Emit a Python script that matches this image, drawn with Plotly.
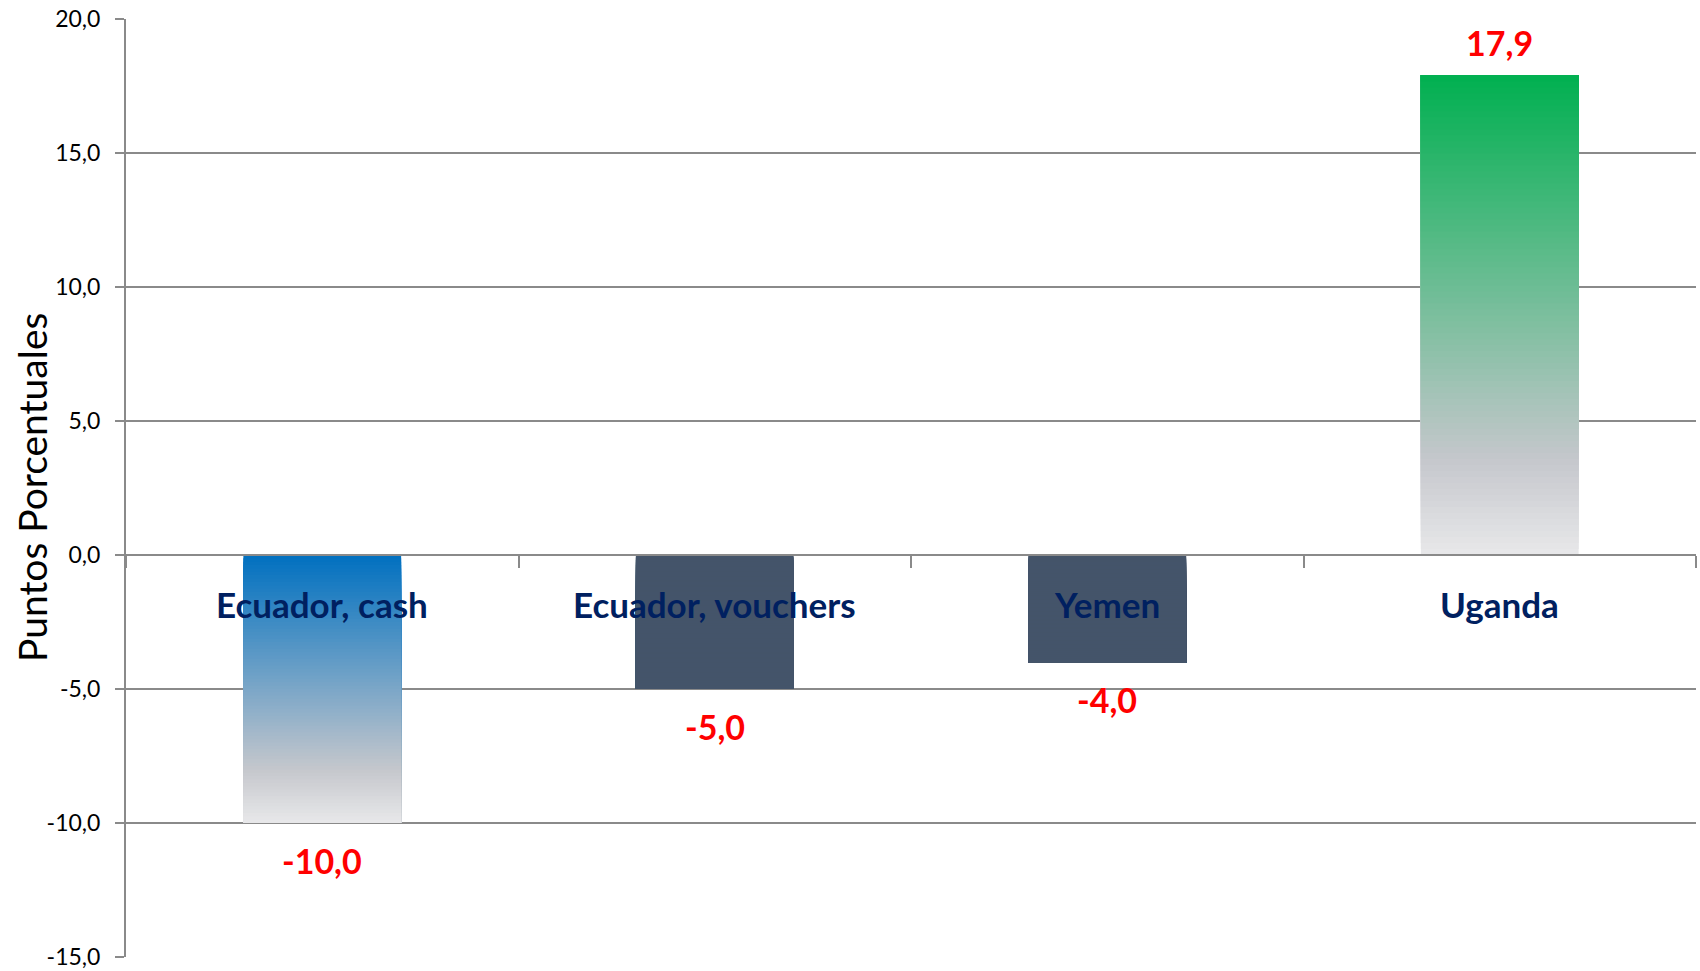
import plotly.graph_objects as go

categories = ["Ecuador, cash", "Ecuador, vouchers", "Yemen", "Uganda"]
values = [-10.0, -5.0, -4.0, 17.9]
top_colors = ["#0070C0", "#44546A", "#44546A", "#00B050"]
gradient = [True, False, False, True]
y_ticks = [-15, -10, -5, 0, 5, 10, 15, 20]
y_title = "Puntos Porcentuales"

Y_MIN, Y_MAX = -15, 20
N = 80
MID_GREY = (197, 199, 204)
LIGHT_GREY = (232, 232, 234)


def fmt(v):
    return f"{v:.1f}".replace(".", ",")


def hex_rgb(h):
    h = h.lstrip("#")
    return tuple(int(h[i:i + 2], 16) for i in (0, 2, 4))


def mix(a, b, t):
    return "rgb(%d,%d,%d)" % tuple(round(a[k] + (b[k] - a[k]) * t) for k in range(3))


def grad_color(top, t):
    # t: 0 at top of bar (screen), 1 at bottom
    if t <= 0.8:
        return mix(top, MID_GREY, t / 0.8)
    return mix(MID_GREY, LIGHT_GREY, (t - 0.8) / 0.2)


fig = go.Figure()
for i in range(N):
    bases, heights, colors = [], [], []
    for v, c, g in zip(values, top_colors, gradient):
        step = v / N
        base = step * i
        bases.append(base)
        heights.append(v - base)  # extends to the bar end; later layers cover
        if g:
            bar_top = max(0, v)
            bar_bot = min(0, v)
            mid = base + step / 2
            t = (bar_top - mid) / (bar_top - bar_bot)
            colors.append(grad_color(hex_rgb(c), t))
        else:
            colors.append(c)
    fig.add_trace(go.Bar(
        x=categories, y=heights, base=bases,
        marker=dict(color=colors, line=dict(width=0)),
        width=0.402, hoverinfo="skip", showlegend=False,
    ))

annotations = []
for cat, v in zip(categories, values):
    annotations.append(dict(
        x=cat, y=v, xref="x", yref="y",
        text=fmt(v), showarrow=False,
        font=dict(family="Lato", size=34, color="#FF0000", weight="bold"),
        yshift=-37 if v < 0 else 33,
        yanchor="middle",
    ))
    annotations.append(dict(
        x=cat, y=0, xref="x", yref="y", text=cat, showarrow=False,
        font=dict(family="Lato", size=35, color="#002060", weight="bold"),
        yshift=-49, yanchor="middle",
    ))
annotations.append(dict(
    x=0, y=0.5, xref="paper", yref="paper", text=y_title, showarrow=False,
    textangle=-90, xanchor="center", yanchor="middle", xshift=-94,
    font=dict(family="Lato", size=39, color="#000000"),
))

fig.update_layout(
    width=1700, height=971,
    margin=dict(l=126, r=4, t=19, b=14, autoexpand=False),
    plot_bgcolor="white", paper_bgcolor="white",
    barmode="overlay",
    annotations=annotations,
    xaxis=dict(
        type="category", showticklabels=False, showgrid=False,
        showline=True, linecolor="#8A8A8A", linewidth=2,
        ticks="outside", tickson="boundaries", ticklen=12, tickcolor="#8A8A8A",
        tickwidth=1.5, anchor="free", position=(0 - Y_MIN) / (Y_MAX - Y_MIN),
        zeroline=False, fixedrange=True, automargin=False,
    ),
    yaxis=dict(
        range=[Y_MIN, Y_MAX], tickvals=y_ticks,
        ticktext=[fmt(t) for t in y_ticks],
        showgrid=True, gridcolor="#8A8A8A", gridwidth=1.5,
        showline=True, linecolor="#8A8A8A", linewidth=2,
        ticks="outside", ticklen=9, tickcolor="#8A8A8A", tickwidth=1.5,
        ticklabelstandoff=10, automargin=False,
        tickfont=dict(family="Lato", size=23, color="#000000"),
        zeroline=False,
    ),
)

fig.write_html(
    "out.html",
    config={"displayModeBar": False},
    post_script="document.body.style.margin='0';document.body.style.overflow='hidden';",
)
